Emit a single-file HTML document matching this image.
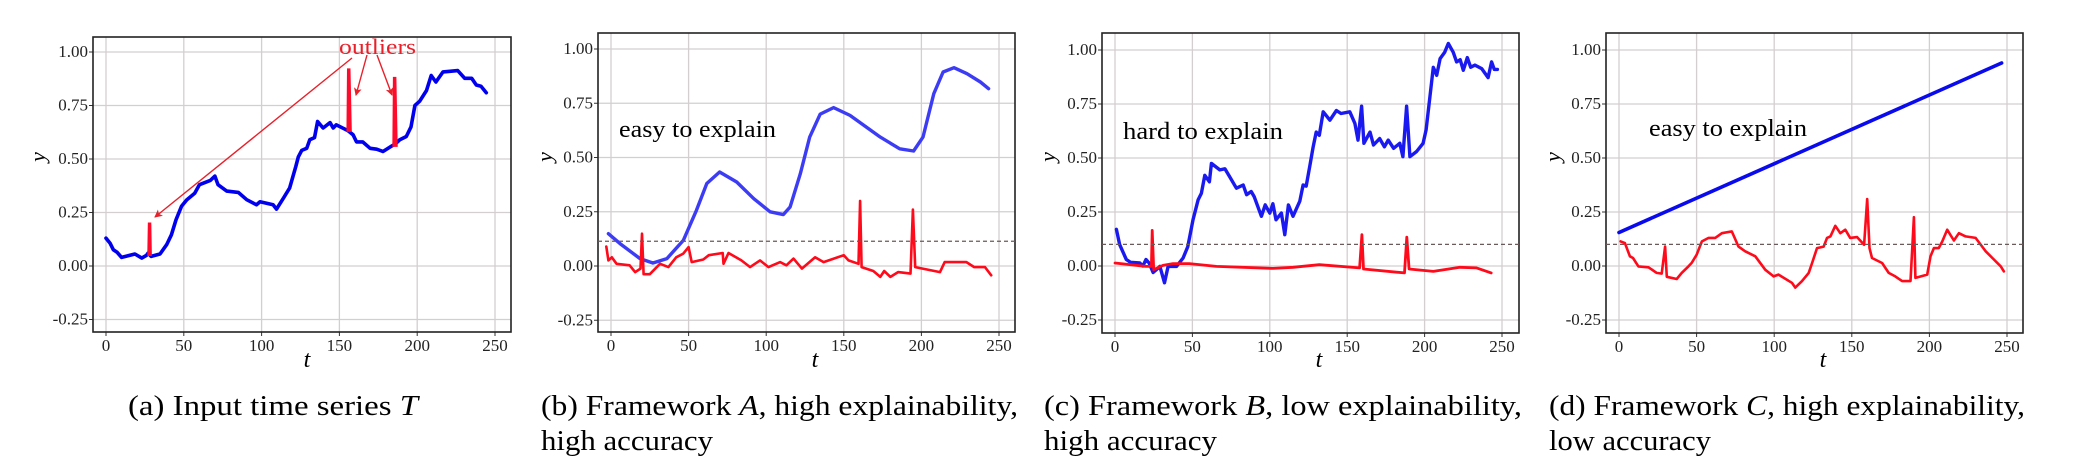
<!DOCTYPE html>
<html><head><meta charset="utf-8"><style>
html,body{margin:0;padding:0;background:#fff;}
svg{display:block;}
text{font-family:"Liberation Serif",serif;}
</style></head><body>
<svg id="s" width="2092" height="470" viewBox="0 0 2092 470" xmlns="http://www.w3.org/2000/svg"></svg>
<script>
const S=document.getElementById('s');let h='';
const P=[
 {x0:106,x250:495,yz:266,y1:52,box:[93,37,511,332],ylab:40,tlab:307},
 {x0:611,x250:999,yz:266,y1:49,box:[598,33,1015,332],ylab:547,tlab:815},
 {x0:1115,x250:1502,yz:266,y1:50,box:[1102,33,1519,333],ylab:1050,tlab:1319},
 {x0:1619,x250:2007,yz:266,y1:50,box:[1606,33,2023,333],ylab:1555,tlab:1823}];
function X(p,t){return p.x0+t*(p.x250-p.x0)/250}
function Y(p,y){return p.yz-y*(p.yz-p.y1)}
function line(p,pts,col,w){h+=`<polyline fill="none" stroke="${col}" stroke-width="${w}" stroke-linejoin="round" stroke-linecap="round" points="${pts.map(q=>X(p,q[0]).toFixed(1)+','+Y(p,q[1]).toFixed(1)).join(' ')}"/>`}
P.forEach(p=>{const[l,t,r,b]=p.box;
 for(let v=0;v<=250;v+=50){const x=X(p,v);h+=`<line x1="${x}" y1="${t}" x2="${x}" y2="${b}" stroke="#d3cfd0" stroke-width="1.3"/><line x1="${x}" y1="${b}" x2="${x}" y2="${b+4}" stroke="#333"/><text x="${x}" y="${b+19}" font-size="17" text-anchor="middle" fill="#222">${v}</text>`}
 [-0.25,0,0.25,0.5,0.75,1].forEach(v=>{const y=Y(p,v);h+=`<line x1="${l}" y1="${y}" x2="${r}" y2="${y}" stroke="#d3cfd0" stroke-width="1.3"/><line x1="${l-4}" y1="${y}" x2="${l}" y2="${y}" stroke="#333"/><text x="${l-5}" y="${y+5}" font-size="17" text-anchor="end" fill="#222">${v.toFixed(2)}</text>`});
 h+=`<rect x="${l}" y="${t}" width="${r-l}" height="${b-t}" fill="none" stroke="#222" stroke-width="1.6"/>`;
 h+=`<text x="${p.ylab}" y="157" font-size="22" font-style="italic" transform="rotate(-90 ${p.ylab} 157)" text-anchor="middle" dominant-baseline="middle">y</text>`;
 h+=`<text x="${p.tlab}" y="367" font-size="24" font-style="italic" text-anchor="middle">t</text>`;
});
// panel a
let A=P[0];
line(A,[[0,.13],[2.6,.107],[4.7,.076],[7,.065],[10,.04],[18.6,.056],[23,.037],[26,.05],[27,.06],[29,.045],[34.7,.056],[39,.1],[42,.146],[45,.216],[48.6,.28],[52,.31],[57,.34],[60,.38],[67,.40],[70,.42],[72,.38],[77.6,.35],[85,.344],[90.4,.31],[96.7,.286],[99,.3],[107.4,.286],[109.6,.266],[114,.317],[118,.364],[122,.465],[123.6,.51],[125.8,.54],[129,.55],[131,.59],[134,.6],[136,.675],[139.5,.645],[144,.67],[146,.645],[148,.66],[154.5,.636],[156,.63],[158.8,.613],[161,.58],[165,.58],[169.7,.55],[174,.546],[178,.535],[183,.558],[186,.57],[188.8,.59],[193,.605],[196,.65],[198.5,.75],[201.6,.77],[206,.82],[209,.89],[212,.86],[216.6,.907],[221,.91],[226,.913],[230.5,.877],[235,.877],[238,.846],[241,.84],[244.4,.81]],'#0000ee',3.6);
[[27,28,29,.05,.2],[155,156,157.5,.63,.92],[184.5,185.5,187,.56,.88]].forEach(s=>{h+=`<polygon fill="#ff0a2a" stroke="#ff0a2a" stroke-width="1.5" points="${X(A,s[0])},${Y(A,s[3])} ${X(A,s[1])-1},${Y(A,s[4])} ${X(A,s[1])+1},${Y(A,s[4])} ${X(A,s[2])},${Y(A,s[3])}"/>`});
h+=`<defs><marker id="ar" markerWidth="8" markerHeight="8" refX="7" refY="4" orient="auto" markerUnits="userSpaceOnUse"><path d="M0,0 L8,4 L0,8 L2,4 z" fill="#e8202a"/></marker></defs>`;
[[352,58,155,217],[367,55,356,95],[377,55,392,95]].forEach(a=>{h+=`<line x1="${a[0]}" y1="${a[1]}" x2="${a[2]}" y2="${a[3]}" stroke="#e8202a" stroke-width="1.4" marker-end="url(#ar)"/>`});
h+=`<text x="339" y="54" font-size="22" fill="#e8202a" textLength="77" lengthAdjust="spacingAndGlyphs">outliers</text>`;
// panel b
let B=P[1];
line(B,[[-1.7,.149],[5.8,.103],[18.7,.034],[27,.014],[36,.034],[46.6,.118],[55,.256],[61.7,.38],[70,.433],[81,.387],[92,.31],[102.5,.25],[111,.237],[115.4,.272],[122,.425],[128,.594],[134.8,.70],[143.4,.73],[154,.694],[173.5,.594],[186,.54],[195,.53],[201,.594],[208,.794],[214,.894],[221,.914],[229.4,.886],[238,.848],[243.3,.817]],'#3c3cf5',3.4);
line(B,[[-3,.09],[-1.7,.026],[0.5,.04],[3.6,.01],[12,.003],[15.5,-.028],[19,-.012],[20,.149],[21,-.038],[25,-.038],[31.6,.01],[37,-.005],[42,.04],[46.6,.057],[50,.087],[52,.018],[59.5,.03],[63,.05],[72,.06],[72.5,.01],[75.7,.06],[84,.026],[89.6,-.005],[96,.026],[101.5,-.005],[109,.018],[113,.003],[117.6,.034],[123,-.012],[131.5,.04],[137,.018],[150,.05],[153,.026],[159.5,.01],[160.5,.30],[161.5,-.005],[169,-.023],[173.5,-.05],[176,-.023],[180,-.05],[185,-.028],[193,-.035],[194.5,.26],[196,-.005],[212,-.028],[215,.018],[229,.018],[234,-.005],[241,-.005],[245,-.043]],'#ff0a1a',2.6);
h+=`<line x1="598" y1="${Y(B,.114)}" x2="1015" y2="${Y(B,.114)}" stroke="#6a5a5a" stroke-width="1.3" stroke-dasharray="4,3"/>`;
h+=`<text x="619" y="137" font-size="24" textLength="157" lengthAdjust="spacingAndGlyphs">easy to explain</text>`;
// panel c
let C=P[2];
line(C,[[.9,.17],[3,.1],[7.3,.03],[10,.017],[16,.014],[18,.0],[20,.03],[22,.014],[24.6,-.03],[26.7,-.017],[29,-.002],[32,-.078],[34.3,-.002],[39.7,-.002],[44,.037],[47,.09],[50.4,.214],[53.7,.306],[55.8,.337],[58,.42],[61,.39],[62.3,.475],[67.7,.445],[71,.45],[74,.414],[78.4,.36],[82.8,.375],[85,.33],[88,.345],[90,.32],[94.6,.23],[97,.283],[100,.245],[102,.288],[104,.214],[107.5,.245],[109.7,.145],[112,.283],[115,.23],[119.4,.3],[121.5,.375],[123.5,.37],[126,.468],[128,.55],[130,.62],[132,.605],[134.5,.714],[138.8,.675],[143,.72],[146,.706],[151.7,.714],[155,.66],[157,.583],[159.3,.74],[160.8,.568],[164.7,.62],[167,.56],[171,.59],[174,.552],[176.5,.583],[180,.545],[184,.568],[186,.506],[188.4,.74],[190.5,.506],[194.8,.53],[199,.568],[201,.63],[203.4,.783],[205.6,.92],[207.8,.883],[210,.96],[213,.99],[215.3,1.03],[218.5,.99],[220.7,.945],[223,.955],[225,.906],[227.6,.965],[229.8,.92],[232.5,.93],[236.9,.914],[241,.872],[243.3,.945],[245,.91],[247,.91]],'#1a1af0',3.4);
line(C,[[0,.014],[20,-.002],[23.5,-.002],[24,.165],[25,-.017],[31,.003],[37.5,.011],[48,.011],[65.5,-.002],[102,-.011],[115,-.006],[132,.006],[158,-.009],[159.5,.145],[160.5,-.014],[187,-.032],[188.5,.134],[190,-.014],[205.6,-.025],[222.8,-.006],[233.6,-.009],[243,-.032]],'#ff0a1a',2.8);
h+=`<line x1="1102" y1="${Y(C,.1)}" x2="1519" y2="${Y(C,.1)}" stroke="#6a5a5a" stroke-width="1.3" stroke-dasharray="4,3"/>`;
h+=`<text x="1123" y="139" font-size="24" textLength="160" lengthAdjust="spacingAndGlyphs">hard to explain</text>`;
// panel d
let D=P[3];
line(D,[[0,.155],[246.5,.94]],'#0a0aee',3.6);
line(D,[[1,.114],[3.8,.106],[7,.045],[9,.037],[12.5,-.002],[19,-.006],[24.3,-.032],[27.5,-.035],[29.7,.09],[30.8,-.05],[37.2,-.06],[40.4,-.032],[44.7,-.002],[46.8,.014],[50,.052],[53.4,.114],[57.7,.13],[62,.13],[66.3,.152],[72.7,.16],[77,.09],[81.3,.068],[87.8,.045],[94.2,-.017],[99.6,-.048],[102.8,-.04],[111.4,-.078],[113.6,-.1],[117.9,-.07],[122.2,-.032],[124.4,.014],[127.6,.083],[131.9,.09],[134,.13],[136.2,.137],[139.4,.186],[142.6,.152],[145.8,.168],[149,.13],[153.4,.134],[157.9,.098],[159.9,.31],[161.4,.083],[163,.037],[169.5,.014],[173.8,-.032],[178,-.048],[182.4,-.07],[187.8,-.07],[190,.226],[191,-.055],[198.6,-.04],[200.7,.045],[202.9,.083],[206,.083],[208.3,.114],[211.5,.168],[215.8,.118],[219,.152],[223.3,.137],[229.8,.13],[234,.09],[236.3,.068],[240.6,.037],[246,-.002],[248,-.025]],'#ff0a1a',2.6);
h+=`<line x1="1606" y1="${Y(D,.1)}" x2="2023" y2="${Y(D,.1)}" stroke="#6a5a5a" stroke-width="1.3" stroke-dasharray="4,3"/>`;
h+=`<text x="1649" y="136" font-size="24" textLength="158" lengthAdjust="spacingAndGlyphs">easy to explain</text>`;
// captions
function cap(x,y,w,s){h+=`<text x="${x}" y="${y}" font-size="29" textLength="${w}" lengthAdjust="spacingAndGlyphs">${s}</text>`}
cap(128,415,290,'(a) Input time series <tspan font-style="italic">T</tspan>');
cap(541,415,477,'(b) Framework <tspan font-style="italic">A</tspan>, high explainability,');
cap(541,450,172,'high accuracy');
cap(1044,415,478,'(c) Framework <tspan font-style="italic">B</tspan>, low explainability,');
cap(1044,450,173,'high accuracy');
cap(1549,415,476,'(d) Framework <tspan font-style="italic">C</tspan>, high explainability,');
cap(1549,450,162,'low accuracy');
S.innerHTML=h;
</script>
</body></html>
